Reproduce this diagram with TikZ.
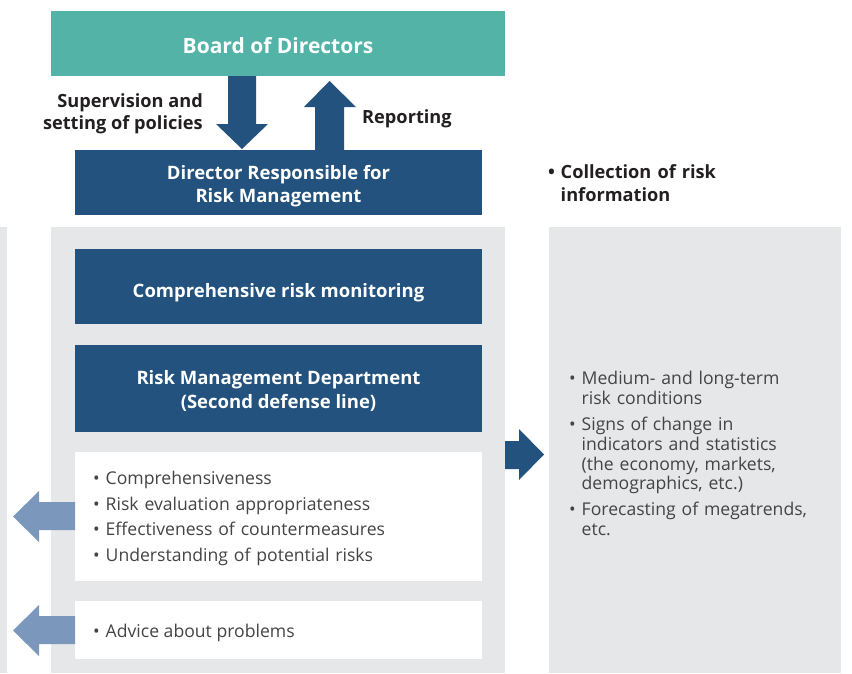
\documentclass[tikz,border=0pt]{standalone}
\usepackage{fontspec}
\setmainfont{Open Sans}
\usetikzlibrary{calc}
\definecolor{boardteal}{HTML}{52B3A6}
\definecolor{dblue}{HTML}{22527D}
\definecolor{lblue}{HTML}{7B98BC}
\definecolor{panelgrey}{HTML}{E6E7E8}
\definecolor{ink}{HTML}{231F20}
\definecolor{body}{HTML}{444444}
\newcommand{\bitem}[1]{\hangindent=12.5pt\hangafter=1\noindent\makebox[12.5pt][l]{•}#1\par}
\tikzset{
  darkbox/.style={rectangle, inner sep=0pt, minimum width=407pt, fill=dblue},
  boxtext/.style={inner sep=0pt, text=white, font=\bfseries\fontsize{18.5}{23.5}\selectfont, align=center},
  whitebox/.style={rectangle, inner sep=0pt, minimum width=407pt, fill=white},
  bodytext/.style={inner sep=0pt, text=body, font=\fontsize{17.6}{25.7}\selectfont, align=left, anchor=west},
  label/.style={inner sep=0pt, text=ink, font=\bfseries\fontsize{18.2}{21.5}\selectfont},
  blockarrow/.style={fill=dblue},
  backarrow/.style={fill=lblue}
}
\begin{document}
\begin{tikzpicture}[x=1pt,y=-1pt]
\useasboundingbox (0,0) rectangle (852,673);
% panels
\fill[panelgrey] (0,227) rectangle (7,673);
\node[rectangle, fill=panelgrey, inner sep=0pt, minimum width=454pt, minimum height=446pt] (panel) at (278,450) {};
\node[rectangle, fill=panelgrey, inner sep=0pt, minimum width=292pt, minimum height=446pt] (rpanel) at (695,450) {};
% top boxes
\node[rectangle, fill=boardteal, inner sep=0pt, minimum width=454pt, minimum height=65pt] (board) at (278,43.5) {};
\node[inner sep=0pt, text=white, font=\bfseries\fontsize{21}{25}\selectfont] (boardtext) at ($(board.center)+(0,2.5)$) {Board of Directors};
\node[darkbox, minimum height=65pt] (dir) at (278.5,182.5) {};
\node[boxtext] (dirtext) at ($(dir.center)+(0,3.5)$) {Director Responsible for\\Risk Management};
% arrows between board and director
\fill[blockarrow] (228,76) -- (256,76) -- (256,124) -- (268,124) -- (242,149) -- (216,124) -- (228,124) -- cycle;
\fill[blockarrow] (315,150) -- (344,150) -- (344,107) -- (356,107) -- (329.5,81) -- (304,107) -- (315,107) -- cycle;
\node[label, align=right, anchor=east] (sup) at (203,114) {Supervision and\\setting of policies};
\node[label, anchor=west] (rep) at (362,119) {Reporting};
% collection label
\node[label, align=left, anchor=north west, text width=220pt, font=\bfseries\fontsize{18.2}{23}\selectfont] (coll) at (548,164.5) {\bitem{Collection of risk\newline information}};
% inner boxes
\node[darkbox, minimum height=75pt] (mon) at (278.5,286.5) {};
\node[boxtext] (montext) at ($(mon.center)+(0,6)$) {Comprehensive risk monitoring};
\node[darkbox, minimum height=87pt] (rmd) at (278.5,388.5) {};
\node[boxtext, font=\bfseries\fontsize{18.5}{24}\selectfont] (rmdtext) at ($(rmd.center)+(0,2)$) {Risk Management Department\\(Second defense line)};
\node[whitebox, minimum height=129pt] (wb1) at (278.5,516.5) {};
\node[whitebox, minimum height=58pt] (wb2) at (278.5,630) {};
\node[bodytext, text width=380pt] (t1) at (93,518.5) {%
\bitem{Comprehensiveness}
\bitem{Risk evaluation appropriateness}
\bitem{Effectiveness of countermeasures}
\bitem{Understanding of potential risks}};
\node[bodytext] (t2) at (93,632.5) {\makebox[12.5pt][l]{•}Advice about problems};
% right arrow
\fill[blockarrow] (505,441) -- (519,441) -- (519,429) -- (544,454.5) -- (519,480) -- (519,469) -- (505,469) -- cycle;
% left arrows
\fill[backarrow] (75,502) -- (39,502) -- (39,491) -- (13,516.5) -- (39,542) -- (39,530) -- (75,530) -- cycle;
\fill[backarrow] (75,616) -- (39,616) -- (39,605) -- (13,630.5) -- (39,656) -- (39,644) -- (75,644) -- cycle;
% right panel text
\node[inner sep=0pt, text=body, font=\fontsize{17.6}{19.8}\selectfont, align=left, anchor=north west, text width=265pt] (rt) at (569,371) {%
\setlength{\parskip}{6.3pt}%
\bitem{Medium- and long-term\newline risk conditions}
\bitem{Signs of change in\newline indicators and statistics\newline (the economy, markets,\newline demographics, etc.)}
\bitem{Forecasting of megatrends,\newline etc.}};
\end{tikzpicture}
\end{document}
